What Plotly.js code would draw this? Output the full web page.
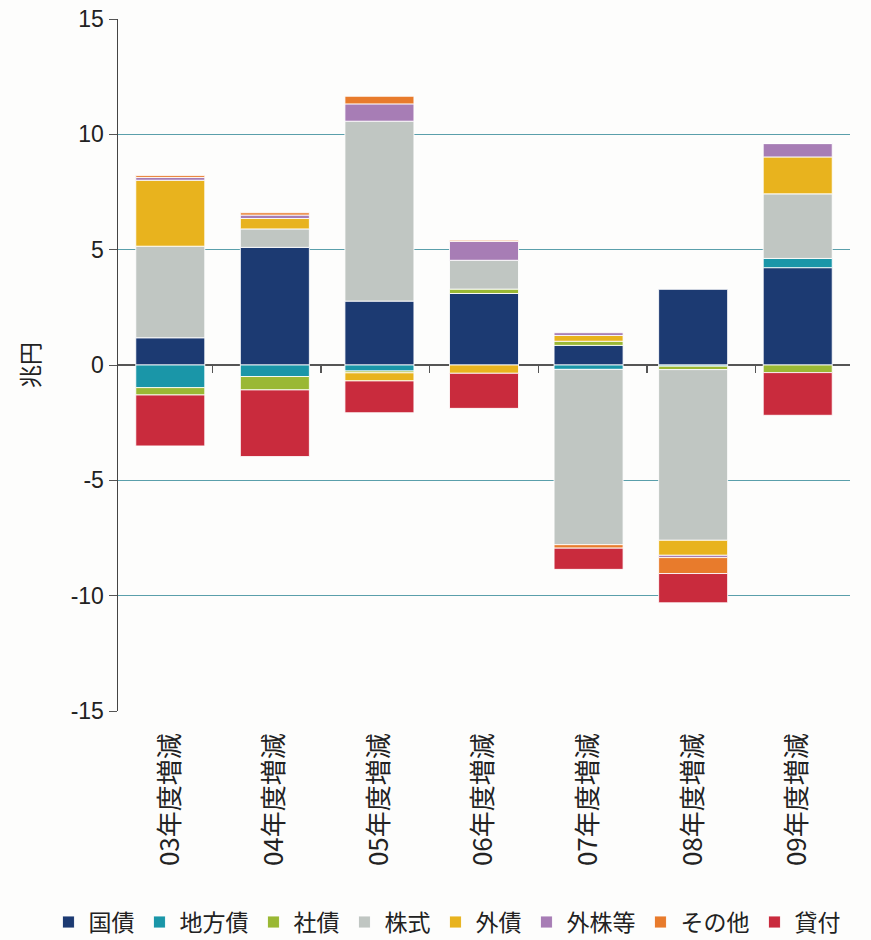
<!DOCTYPE html>
<html>
<head>
<meta charset="utf-8">
<script src="https://cdn.plot.ly/plotly-3.0.1.min.js"></script>
<style>
html,body{margin:0;padding:0;background:#fdfdfc;}
#chart{width:871px;height:940px;}
</style>
</head>
<body>
<div id="chart"></div>
<script>
const categories = ['03年度増減','04年度増減','05年度増減','06年度増減','07年度増減','08年度増減','09年度増減'];
const seriesNames = ['国債','地方債','社債','株式','外債','外株等','その他','貸付'];
const kokusai   = [1.18, 5.10, 2.77, 3.10, 0.85, 3.28, 4.22];
const chihousai = [-0.98, -0.50, -0.26, 0.00, -0.19, -0.05, 0.40];
const shasai    = [-0.32, -0.58, -0.08, 0.19, 0.18, -0.15, -0.33];
const kabushiki = [3.97, 0.80, 7.80, 1.25, -7.60, -7.40, 2.80];
const gaisai    = [2.86, 0.45, -0.35, -0.36, 0.25, -0.65, 1.60];
const gaikabu   = [0.12, 0.15, 0.75, 0.82, 0.12, -0.10, 0.58];
const sonota    = [0.08, 0.10, 0.33, 0.05, -0.15, -0.69, 0.00];
const kashitsuke= [-2.21, -2.89, -1.38, -1.52, -0.92, -1.27, -1.85];
const yTicks = [-15,-10,-5,0,5,10,15];

const seriesValues = [kokusai, chihousai, shasai, kabushiki, gaisai, gaikabu, sonota, kashitsuke];
const colors = ['#1c3a72','#1a96a8','#9ab834','#c0c6c2','#e8b31e','#a77db5','#e87b2c','#c92b3d'];

const FONT = '"Liberation Sans", Arial, "Noto Sans CJK JP", sans-serif';
const CJK = '"Noto Sans CJK JP", "Liberation Sans", sans-serif';

const traces = seriesNames.map((name, i) => ({
  type: 'bar',
  name: name,
  x: categories,
  y: seriesValues[i],
  marker: {color: colors[i], line: {color: 'rgba(255,255,255,0.85)', width: 1}},
  hoverinfo: 'x+y+name'
}));

// helper trace for the tick marks along the zero line
traces.push({
  type: 'scatter',
  x: categories,
  y: categories.map(() => null),
  xaxis: 'x2',
  yaxis: 'y',
  mode: 'markers',
  showlegend: false,
  hoverinfo: 'skip'
});

const layout = {
  width: 871,
  height: 940,
  paper_bgcolor: '#fdfdfc',
  plot_bgcolor: '#fdfdfc',
  margin: {l: 118, r: 21, t: 19, b: 229, autoexpand: false},
  barmode: 'relative',
  bargap: 0.34,
  font: {family: FONT, color: '#222'},
  xaxis: {
    type: 'category',
    tickangle: -90,
    ticks: '',
    showline: false,
    showgrid: false,
    zeroline: false,
    ticklabelstandoff: 16,
    tickfont: {family: CJK, size: 26, color: '#222'}
  },
  xaxis2: {
    type: 'category',
    overlaying: 'x',
    anchor: 'free',
    position: 0.5,
    side: 'bottom',
    tickson: 'boundaries',
    ticks: 'outside',
    ticklen: 7,
    tickwidth: 1.5,
    tickcolor: '#555',
    showticklabels: false,
    showgrid: false,
    showline: false,
    zeroline: false
  },
  yaxis: {
    range: [-15, 15],
    tickvals: yTicks,
    ticktext: yTicks.map(String),
    ticks: 'outside',
    ticklen: 8,
    tickwidth: 1,
    tickcolor: '#555',
    showline: true,
    linecolor: '#444',
    linewidth: 1.5,
    showgrid: true,
    gridcolor: '#5a9fab',
    gridwidth: 1,
    zeroline: true,
    zerolinecolor: '#555',
    zerolinewidth: 1.5,
    tickfont: {family: FONT, size: 23, color: '#222'},
    title: {text: '兆円', font: {family: CJK, size: 23, color: '#222'}, standoff: 24}
  },
  showlegend: true,
  legend: {
    orientation: 'h',
    xref: 'paper',
    yref: 'paper',
    x: -0.095,
    xanchor: 'left',
    y: -0.305,
    yanchor: 'middle',
    itemwidth: 30,
    tracegroupgap: 0,
    font: {family: CJK, size: 23, color: '#222'},
    bgcolor: 'rgba(0,0,0,0)'
  }
};

Plotly.newPlot('chart', traces, layout, {displayModeBar: false, staticPlot: true});
</script>
</body>
</html>
